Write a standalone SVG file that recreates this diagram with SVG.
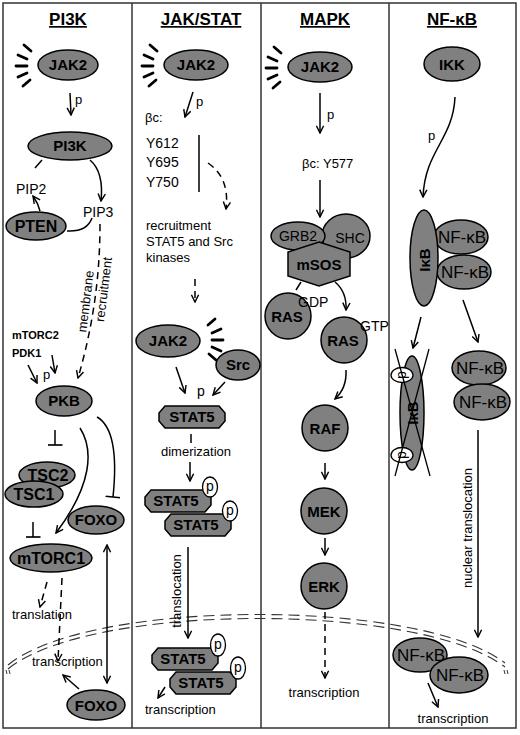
<svg xmlns="http://www.w3.org/2000/svg" width="520" height="735" viewBox="0 0 520 735">
<defs>
<style>
.n{fill:#808080;stroke:#000;stroke-width:1.5}
.w{fill:#fff;stroke:#000;stroke-width:1.3}
.b{font-family:"Liberation Sans",Arial,sans-serif;font-weight:bold;font-size:15px;text-anchor:middle;fill:#000}
.g{font-family:"Liberation Sans",Arial,sans-serif;font-size:14px;text-anchor:middle;fill:#000}
.r{font-family:"Liberation Sans",Arial,sans-serif;font-size:13px;fill:#000}
.s{font-family:"Liberation Sans",Arial,sans-serif;font-size:14px;fill:#000}
.c{fill:none;stroke:#000;stroke-width:1.5}
.d{stroke-dasharray:7 5}
.a{marker-end:url(#ah)}
.i{marker-end:url(#tb)}
.h{fill:none;stroke:#000;stroke-width:2.8;stroke-linecap:round}
.ti{font-family:"Liberation Sans",Arial,sans-serif;font-weight:bold;font-size:17px;text-anchor:middle;text-decoration:underline}
.m{fill:none;stroke:#333;stroke-width:1.1;stroke-dasharray:11 6}
.fr{fill:none;stroke:#333;stroke-width:1.5}
</style>
<marker id="ah" viewBox="0 0 10 10" refX="9" refY="5" markerWidth="9" markerHeight="9" markerUnits="userSpaceOnUse" orient="auto"><path d="M1,1 L9,5 L1,9" fill="none" stroke="#000" stroke-width="1.6" stroke-dasharray="none"/></marker>
<marker id="ahs" viewBox="0 0 10 10" refX="9" refY="5" markerWidth="9" markerHeight="9" markerUnits="userSpaceOnUse" orient="auto-start-reverse"><path d="M1,1 L9,5 L1,9" fill="none" stroke="#000" stroke-width="1.6"/></marker>
<marker id="tb" viewBox="0 0 10 10" refX="5" refY="5" markerWidth="15" markerHeight="15" markerUnits="userSpaceOnUse" orient="auto"><path d="M5,0 L5,10" stroke="#000" stroke-width="1.1"/></marker>
<g id="burst" class="h">
<line x1="-14" y1="-20" x2="-7" y2="-14"/>
<line x1="-20" y1="-10" x2="-11" y2="-6"/>
<line x1="-22" y1="1" x2="-11" y2="1"/>
<line x1="-20" y1="12" x2="-11" y2="8"/>
<line x1="-15" y1="21" x2="-8" y2="15"/>
</g>
<path id="oct" d="M-27,-11 H27 L33,-4 V4 L27,11 H-27 L-33,4 V-4 Z"/>
</defs>
<rect width="520" height="735" fill="#fff"/>
<g id="frame" class="fr">
<rect x="3" y="3" width="513" height="725"/>
<line x1="132" y1="3" x2="132" y2="728"/>
<line x1="261" y1="3" x2="261" y2="728"/>
<line x1="389" y1="3" x2="389" y2="728"/>
</g>
<g id="titles">
<text class="ti" x="68" y="25">PI3K</text>
<text class="ti" x="201" y="25">JAK/STAT</text>
<text class="ti" x="325" y="25">MAPK</text>
<text class="ti" x="452" y="25">NF-κB</text>
</g>
<g id="membrane">
<path class="m" d="M8,665 C90,598 420,598 505,663"/>
<path class="m" d="M8,669 C90,602 420,602 505,667"/>
<path d="M6,670 l1,4 M9,670 l1,4 M504,670 l1,4 M507,670 l1,4" stroke="#333" stroke-width="1"/>
</g>
<g id="connectors" class="c">
<path class="a" d="M70,93 L71,115"/>
<path class="a" d="M90,160 Q104,172 101,201"/>
<path d="M42,160 L35,168"/>
<path d="M92,218 Q87,232 67,231"/>
<path class="a" d="M40,211 Q38,203 33,196"/>
<path class="a d" d="M100,224 C100,280 92,330 78,378"/>
<path class="a" d="M52,355 L55,373"/>
<path class="a" d="M28,365 L37,383"/>
<path class="i" d="M55,430 L55,445"/>
<path class="a" d="M80,428 C94,450 92,485 56,533"/>
<path class="i" d="M97,417 Q120,430 113,497"/>
<path class="i" d="M33,522 L33,537"/>
<path class="a d" d="M47,582 L40,607"/>
<path class="a d" d="M62,578 L58,661"/>
<path d="M107,545 L107,683" marker-start="url(#ahs)" marker-end="url(#ahs)"/>
<path class="a" d="M79,689 L63,675"/>
<path class="a" d="M193,92 L185,117"/>
<path d="M199,135 L199,192"/>
<path class="a d" d="M208,163 Q230,178 226,209"/>
<path class="a d" d="M195,279 L195,302"/>
<path class="a" d="M176,367 L185,393"/>
<path class="a" d="M225,382 L213,395"/>
<path d="M191,434 L191,443"/>
<path class="a" d="M190,462 L190,481"/>
<path class="a" d="M188,547 L188,638"/>
<path class="a" d="M165,687 L158,698"/>
<path class="a" d="M320,93 L320,133"/>
<path class="a" d="M320,180 L320,217"/>
<path d="M301,282 L296,290"/>
<path class="a" d="M335,282 Q347,292 346,310"/>
<path class="a" d="M346,370 Q347,388 335,399"/>
<path class="a" d="M325,463 L325,479"/>
<path class="a" d="M325,538 L325,555"/>
<path class="a d" d="M325,612 L325,678"/>
<path class="a" d="M455,97 C453,140 425,150 423,197"/>
<path class="a" d="M421,317 L413,348"/>
<path class="a" d="M463,300 L478,342"/>
<path class="a" d="M478,430 L478,637"/>
<path class="a" d="M428,683 L438,707"/>
</g>
<g id="pi3k-col">
<g id="jak2-a"><use href="#burst" x="38" y="65"/><ellipse class="n" cx="68" cy="65" rx="30" ry="15"/><text class="b" x="68" y="70">JAK2</text></g>
<text class="r" x="75" y="104">p</text>
<g id="pi3k"><ellipse class="n" cx="70" cy="146" rx="42" ry="14"/><text class="b" x="70" y="151">PI3K</text></g>
<text class="s" x="16" y="194">PIP2</text>
<text class="s" x="83" y="217">PIP3</text>
<g id="pten"><ellipse class="n" cx="36" cy="226" rx="30" ry="14"/><text class="b" x="36" y="232" style="font-size:16px">PTEN</text></g>
<text class="r" transform="translate(90,302) rotate(-83)" text-anchor="middle">membrane</text>
<text class="r" transform="translate(108,290) rotate(-83)" text-anchor="middle">recruitment</text>
<text class="b" x="12" y="339" style="font-size:11px;text-anchor:start">mTORC2</text>
<text class="b" x="12" y="357" style="font-size:11px;text-anchor:start">PDK1</text>
<text class="r" x="43" y="379">p</text>
<g id="pkb"><ellipse class="n" cx="64" cy="401" rx="28" ry="15"/><text class="b" x="64" y="406">PKB</text></g>
<g id="tsc2"><ellipse class="n" cx="47" cy="475" rx="28" ry="13"/><text class="b" x="48" y="481" style="font-size:16px">TSC2</text></g>
<g id="tsc1"><ellipse class="n" cx="34" cy="494" rx="29" ry="13"/><text class="b" x="34" y="500" style="font-size:16px">TSC1</text></g>
<g id="foxo-a"><ellipse class="n" cx="96" cy="520" rx="28" ry="14"/><text class="b" x="96" y="525">FOXO</text></g>
<g id="mtorc1"><ellipse class="n" cx="51" cy="558" rx="41" ry="14"/><text class="b" x="51" y="564" style="font-size:16px">mTORC1</text></g>
<text class="r" x="12" y="619">translation</text>
<text class="r" x="32" y="666">transcription</text>
<g id="foxo-b"><ellipse class="n" cx="96" cy="705" rx="29" ry="15"/><text class="b" x="96" y="711">FOXO</text></g>
</g>
<g id="jakstat-col">
<g id="jak2-b"><use href="#burst" x="164" y="65"/><ellipse class="n" cx="196" cy="65" rx="32" ry="15"/><text class="b" x="196" y="70">JAK2</text></g>
<text class="r" x="196" y="106">p</text>
<text class="r" x="145" y="122">βc:</text>
<text class="s" x="146" y="148">Y612</text>
<text class="s" x="146" y="167">Y695</text>
<text class="s" x="146" y="187">Y750</text>
<text class="r" x="146" y="230">recruitment</text>
<text class="r" x="146" y="246">STAT5 and Src</text>
<text class="r" x="146" y="262">kinases</text>
<g id="jak2-c"><use href="#burst" transform="translate(201,339) scale(-1,1)"/><ellipse class="n" cx="168" cy="341" rx="32" ry="16"/><text class="b" x="168" y="346">JAK2</text></g>
<g id="src"><ellipse class="n" cx="238" cy="365" rx="22" ry="15"/><text class="b" x="238" y="370">Src</text></g>
<text class="s" x="197" y="396">p</text>
<g id="stat5-a"><use href="#oct" class="n" x="192" y="417"/><text class="b" x="192" y="422">STAT5</text></g>
<text class="r" x="196" y="456" text-anchor="middle">dimerization</text>
<g id="stat5-dimer">
<use href="#oct" class="n" x="178" y="501"/><text class="b" x="176" y="506">STAT5</text>
<ellipse class="w" cx="210" cy="487" rx="7.5" ry="10"/><text class="g" x="210" y="491">p</text>
<use href="#oct" class="n" x="198" y="525"/><text class="b" x="196" y="530">STAT5</text>
<ellipse class="w" cx="230" cy="511" rx="7.5" ry="10"/><text class="g" x="230" y="515">p</text>
</g>
<text class="r" transform="translate(181,591) rotate(-90)" text-anchor="middle">translocation</text>
<g id="stat5-nuc">
<use href="#oct" class="n" x="185" y="659"/><text class="b" x="183" y="664">STAT5</text>
<ellipse class="w" cx="218" cy="645" rx="7.5" ry="11"/><text class="g" x="218" y="649">p</text>
<use href="#oct" class="n" x="203" y="683"/><text class="b" x="201" y="688">STAT5</text>
<ellipse class="w" cx="238" cy="668" rx="7.5" ry="11"/><text class="g" x="238" y="672">p</text>
</g>
<text class="r" x="145" y="714">transcription</text>
</g>
<g id="mapk-col">
<g id="jak2-d"><use href="#burst" x="288" y="67"/><ellipse class="n" cx="320" cy="67" rx="32" ry="15"/><text class="b" x="320" y="72">JAK2</text></g>
<text class="r" x="327" y="119">p</text>
<text class="r" x="302" y="168">βc: Y577</text>
<g id="shc"><ellipse class="n" cx="346" cy="236" rx="24" ry="22"/><text class="g" x="350" y="243">SHC</text></g>
<g id="grb2"><ellipse class="n" cx="298" cy="236" rx="27" ry="14"/><text class="g" x="298" y="241">GRB2</text></g>
<g id="msos"><polygon class="n" points="319,242 350,252 350,276 319,286 288,276 288,252"/><text class="b" x="319" y="270">mSOS</text></g>
<g id="ras-gdp"><circle class="n" cx="288" cy="316" r="23"/><text class="b" x="287" y="322">RAS</text><text class="s" x="298" y="307">GDP</text></g>
<g id="ras-gtp"><circle class="n" cx="344" cy="340" r="23"/><text class="b" x="343" y="346">RAS</text><text class="s" x="360" y="331">GTP</text></g>
<g id="raf"><circle class="n" cx="325" cy="428" r="23"/><text class="b" x="325" y="434">RAF</text></g>
<g id="mek"><circle class="n" cx="324" cy="511" r="23"/><text class="b" x="324" y="517">MEK</text></g>
<g id="erk"><circle class="n" cx="324" cy="586" r="23"/><text class="b" x="324" y="592">ERK</text></g>
<text class="r" x="324" y="697" text-anchor="middle">transcription</text>
</g>
<g id="nfkb-col">
<g id="ikk"><ellipse class="n" cx="452" cy="64" rx="28" ry="17"/><text class="b" x="452" y="70">IKK</text></g>
<text class="r" x="428" y="140">p</text>
<g id="complex">
<ellipse class="n" cx="461" cy="237" rx="27" ry="17"/><text class="g" x="462" y="243" style="font-size:17px">NF-κB</text>
<ellipse class="n" cx="464" cy="272" rx="27" ry="17"/><text class="g" x="465" y="278" style="font-size:17px">NF-κB</text>
<ellipse class="n" cx="424" cy="258" rx="14" ry="48"/><text class="b" transform="translate(430,260) rotate(-90)">IκB</text>
</g>
<g id="ikb-degraded">
<ellipse class="n" cx="412" cy="413" rx="12" ry="57"/><text class="b" transform="translate(418,413) rotate(-90)">IκB</text>
<ellipse class="w" cx="402" cy="375" rx="11" ry="7.5"/><text class="g" transform="translate(406,375) rotate(-90)">p</text>
<ellipse class="w" cx="402" cy="455" rx="11" ry="7.5"/><text class="g" transform="translate(406,455) rotate(-90)">p</text>
<path d="M395,349 L430,476 M429,349 L395,476" stroke="#000" stroke-width="1.3"/>
</g>
<g id="nfkb-free">
<ellipse class="n" cx="479" cy="368" rx="27" ry="17"/><text class="g" x="480" y="374" style="font-size:17px">NF-κB</text>
<ellipse class="n" cx="482" cy="402" rx="28" ry="18"/><text class="g" x="483" y="408" style="font-size:17px">NF-κB</text>
</g>
<text class="r" transform="translate(472,528) rotate(-90)" text-anchor="middle">nuclear translocation</text>
<g id="nfkb-nuc">
<ellipse class="n" cx="420" cy="655" rx="27" ry="17"/><text class="g" x="421" y="661" style="font-size:17px">NF-κB</text>
<ellipse class="n" cx="459" cy="675" rx="29" ry="18"/><text class="g" x="460" y="681" style="font-size:17px">NF-κB</text>
</g>
<text class="r" x="453" y="723" text-anchor="middle">transcription</text>
</g>
</svg>
